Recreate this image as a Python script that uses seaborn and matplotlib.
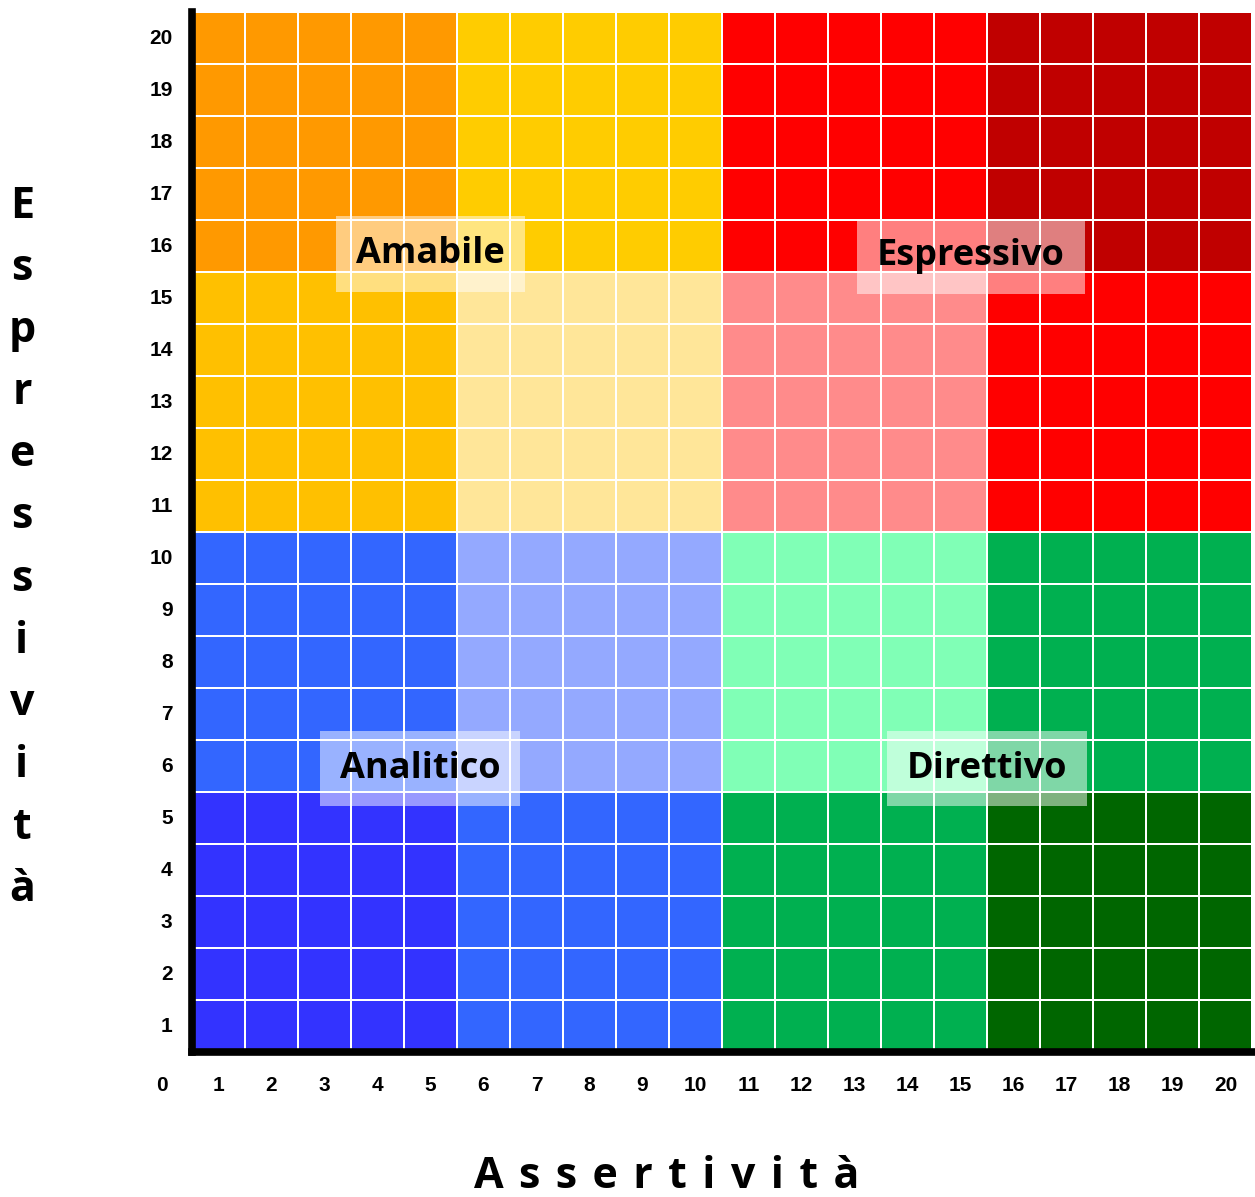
import numpy as np
import matplotlib
matplotlib.use("Agg")
import matplotlib.pyplot as plt
from matplotlib.colors import ListedColormap
import seaborn as sns

# ---- data ----
x_ticks = list(range(1, 21))
y_ticks = list(range(20, 0, -1))          # top to bottom
block_size = 5
# block colours, rows listed top (Espressività 16-20) to bottom (1-5)
block_row_1 = ["#FF9900", "#FFCC00", "#FF0000", "#C00000"]
block_row_2 = ["#FFC000", "#FFE699", "#FF8B8B", "#FF0000"]
block_row_3 = ["#3366FF", "#94A9FF", "#80FFB6", "#00B050"]
block_row_4 = ["#3333FF", "#3366FF", "#00B050", "#006600"]
zone_names = ["Amabile", "Espressivo", "Analitico", "Direttivo"]
zone_x = [4.5, 14.7, 4.3, 15.0]     # label centres (Assertività)
zone_y = [4.65, 4.7, 14.55, 14.55]  # rows from top

block_rows = [block_row_1, block_row_2, block_row_3, block_row_4]
palette = [c for row in block_rows for c in row]
cmap = ListedColormap(palette)

nb = len(block_rows)
grid = np.zeros((20, 20))
for bi in range(nb):
    for bj in range(4):
        grid[bi*block_size:(bi+1)*block_size, bj*block_size:(bj+1)*block_size] = bi*4 + bj

sns.set_style("white")
plt.rcParams['font.family'] = ['Liberation Sans', 'DejaVu Sans']
plt.rcParams['text.color'] = 'black'
plt.rcParams['xtick.color'] = 'black'
plt.rcParams['ytick.color'] = 'black'

fig = plt.figure(figsize=(12.55, 11.97), dpi=100)
ax = fig.add_axes([192/1255, 1-1052/1197, (1252-192)/1255, (1052-12)/1197])

sns.heatmap(grid, cmap=cmap, vmin=-0.5, vmax=len(palette)-0.5, cbar=False,
            linewidths=1.1, linecolor="white", ax=ax,
            xticklabels=x_ticks, yticklabels=y_ticks)

ax.tick_params(axis='both', length=0, labelcolor='black')
ax.tick_params(axis='y', pad=14, labelsize=15)
ax.tick_params(axis='x', pad=17, labelsize=15)
for lab in ax.get_yticklabels():
    lab.set_rotation(0)
    lab.set_fontweight('bold')
for lab in ax.get_xticklabels():
    lab.set_fontweight('bold')

for side in ['left', 'bottom']:
    ax.spines[side].set_visible(True)
    ax.spines[side].set_color('black')
    ax.spines[side].set_linewidth(5.5)
for side in ['top', 'right']:
    ax.spines[side].set_visible(False)

# corner "0"
ax.text(-0.57, 20.64, "0", ha='center', va='center',
        fontsize=15, fontweight='bold', color='black', clip_on=False)

for name, zx, zy in zip(zone_names, zone_x, zone_y):
    ax.text(zx, zy, name, ha='center', va='center', fontsize=26,
            fontweight='bold', color='black', family=['Open Sans', 'DejaVu Sans'],
            bbox=dict(boxstyle='square,pad=0.55', facecolor='white',
                      edgecolor='none', alpha=0.5))

# axis titles
fig.text((475+858)/2/1255, 1-1177/1197, " \u200A".join("Assertività"), ha='center', va='center',
         fontsize=31, fontweight='bold', color='black', family=['Open Sans', 'DejaVu Sans'])
fig.text(22/1255, 1-548/1197, "\n".join("Espressività"), ha='center', va='center',
         fontsize=31, fontweight='bold', color='black', family=['Open Sans', 'DejaVu Sans'],
         linespacing=1.58)

fig.savefig("out.png", dpi=100)
